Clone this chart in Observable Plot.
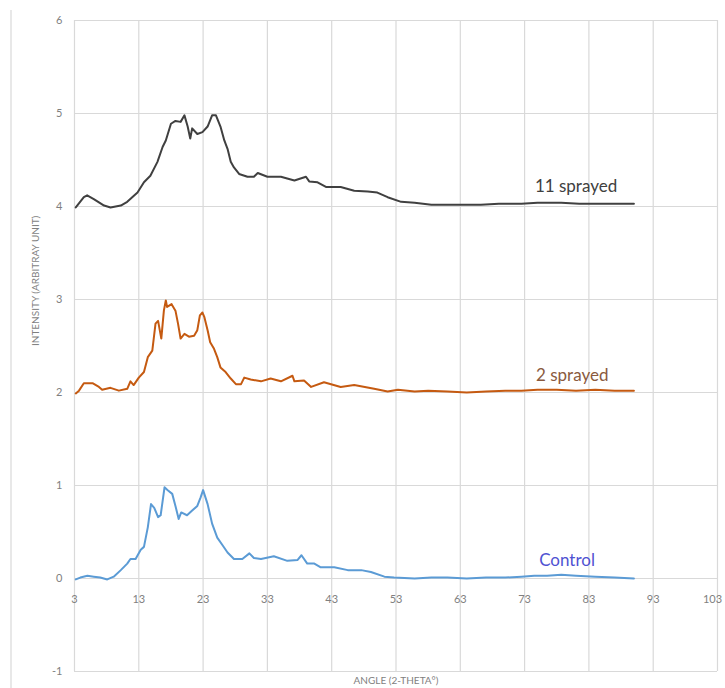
<!DOCTYPE html>
<html>
<head>
<meta charset="utf-8">
<script src="https://cdn.jsdelivr.net/npm/d3@7"></script>
<script src="https://cdn.jsdelivr.net/npm/@observablehq/plot@0.6"></script>
<style>
  body { margin: 0; background: #fff; }
  #chart { position: relative; width: 725px; height: 688px; font-family: Lato, "Open Sans", sans-serif; }
  #edge { position: absolute; left: 10px; top: 10px; width: 2px; height: 678px; background: #e8e8e8; }
</style>
</head>
<body>
<div id="chart"><div id="edge"></div></div>
<script>
// X-ray diffraction patterns, offset vertically by sample
const controlAngle = [3.2, 3.9, 5.0, 6.0, 7.0, 8.1, 9.1, 10.2, 11.2, 11.7, 12.5, 13.3, 13.8, 14.4, 14.9, 15.4, 16.0, 16.4, 17.0, 17.5, 18.2, 18.7, 19.2, 19.6, 20.5, 21.3, 22.1, 22.6, 23.0, 23.7, 24.4, 25.2, 26.0, 26.8, 27.8, 29.1, 30.2, 30.9, 32.0, 34.0, 36.1, 37.7, 38.3, 39.2, 40.3, 41.3, 43.4, 45.5, 47.6, 49.1, 51.2, 52.7, 55.9, 58.5, 61.0, 64.0, 67.0, 70.0, 72.5, 74.5, 76.5, 78.7, 81.0, 84.0, 87.0, 90.0];
const controlIntensity = [-0.01, 0.01, 0.03, 0.02, 0.01, -0.01, 0.02, 0.09, 0.16, 0.21, 0.21, 0.31, 0.34, 0.55, 0.80, 0.76, 0.66, 0.68, 0.98, 0.95, 0.91, 0.78, 0.64, 0.71, 0.68, 0.73, 0.78, 0.87, 0.95, 0.80, 0.59, 0.44, 0.36, 0.28, 0.21, 0.21, 0.27, 0.22, 0.21, 0.24, 0.19, 0.20, 0.25, 0.16, 0.16, 0.12, 0.12, 0.09, 0.09, 0.07, 0.02, 0.01, 0.00, 0.01, 0.01, 0.00, 0.01, 0.01, 0.02, 0.03, 0.03, 0.04, 0.03, 0.02, 0.01, 0.00];

const sprayed2Angle = [3.2, 3.7, 4.45, 5.8, 6.8, 7.3, 8.6, 9.9, 11.2, 11.7, 12.2, 13.0, 13.8, 14.4, 15.1, 15.6, 16.0, 16.5, 16.9, 17.2, 17.4, 18.1, 18.7, 19.1, 19.5, 20.1, 20.8, 21.6, 22.1, 22.5, 22.9, 23.2, 23.7, 24.1, 24.7, 25.2, 25.7, 26.5, 27.3, 28.1, 28.9, 29.4, 30.4, 32.0, 33.5, 35.1, 36.9, 37.2, 38.7, 39.8, 41.8, 44.4, 46.5, 49.6, 51.7, 53.3, 55.9, 58.0, 61.0, 64.0, 67.0, 70.0, 72.5, 75.0, 78.0, 81.0, 84.0, 87.0, 90.0];
const sprayed2Intensity = [1.99, 2.02, 2.10, 2.10, 2.06, 2.03, 2.05, 2.02, 2.04, 2.12, 2.08, 2.16, 2.22, 2.38, 2.45, 2.74, 2.77, 2.58, 2.88, 2.99, 2.92, 2.95, 2.88, 2.74, 2.58, 2.63, 2.60, 2.61, 2.67, 2.83, 2.86, 2.81, 2.67, 2.54, 2.47, 2.38, 2.27, 2.22, 2.15, 2.09, 2.09, 2.16, 2.14, 2.12, 2.15, 2.12, 2.18, 2.12, 2.13, 2.06, 2.11, 2.06, 2.08, 2.04, 2.01, 2.03, 2.01, 2.02, 2.01, 2.00, 2.01, 2.02, 2.02, 2.03, 2.03, 2.02, 2.03, 2.02, 2.02];

const sprayed11Angle = [3.2, 4.45, 4.97, 6.0, 7.6, 8.6, 10.2, 11.2, 12.8, 13.8, 14.8, 15.9, 16.7, 17.2, 18.0, 18.7, 19.5, 20.1, 20.6, 21.0, 21.3, 22.1, 22.9, 23.7, 24.4, 25.0, 25.7, 26.3, 26.8, 27.3, 27.8, 28.6, 29.9, 30.9, 31.5, 33.0, 35.1, 37.2, 39.0, 39.5, 40.8, 42.1, 44.4, 46.5, 48.6, 50.1, 51.7, 53.8, 55.9, 58.5, 61.0, 63.5, 66.2, 69.0, 72.5, 75.0, 78.7, 81.5, 84.0, 87.0, 90.0];
const sprayed11Intensity = [3.99, 4.10, 4.12, 4.08, 4.01, 3.99, 4.01, 4.05, 4.15, 4.26, 4.33, 4.48, 4.64, 4.71, 4.89, 4.92, 4.91, 4.98, 4.86, 4.73, 4.84, 4.78, 4.80, 4.86, 4.98, 4.98, 4.86, 4.71, 4.62, 4.48, 4.42, 4.35, 4.32, 4.32, 4.36, 4.32, 4.32, 4.28, 4.32, 4.27, 4.26, 4.21, 4.21, 4.17, 4.16, 4.15, 4.10, 4.05, 4.04, 4.02, 4.02, 4.02, 4.02, 4.03, 4.03, 4.04, 4.04, 4.03, 4.03, 4.03, 4.03];

const seriesNames = ["Control", "2 sprayed", "11 sprayed"];
const seriesColors = ["#5b9bd5", "#c55a11", "#404040"];
const labelX = [79.6, 80.4, 81.0];
const labelY = [0.19, 2.18, 4.21];
const labelColors = ["#4f52d2", "#8a5a3e", "#404040"];

const xTicks = [3, 13, 23, 33, 43, 53, 63, 73, 83, 93, 103];
const yTicks = [-1, 0, 1, 2, 3, 4, 5, 6];

const angles = [controlAngle, sprayed2Angle, sprayed11Angle];
const intensities = [controlIntensity, sprayed2Intensity, sprayed11Intensity];
const rows = seriesNames.flatMap((name, i) =>
  angles[i].map((a, j) => ({name, angle: a, intensity: intensities[i][j]}))
);
const labels = seriesNames.map((name, i) => ({name, x: labelX[i], y: labelY[i], color: labelColors[i]}));

const grey = "#7f7f7f";
const lastTick = xTicks[xTicks.length - 1];
const tickLabel = {y: 0, dy: 21, text: d => String(d), fill: grey, fontSize: 11};
const chart = Plot.plot({
  width: 725,
  height: 688,
  marginLeft: 74,
  marginRight: 8,
  marginTop: 20,
  marginBottom: 17,
  style: {fontFamily: "Lato, 'Open Sans', sans-serif", background: "transparent"},
  x: {domain: [3, 103], axis: null},
  y: {domain: [-1, 6], axis: null},
  color: {domain: seriesNames, range: seriesColors},
  marks: [
    Plot.gridX(xTicks, {stroke: "#d9d9d9", strokeOpacity: 1, strokeWidth: 1.2}),
    Plot.gridY(yTicks, {stroke: "#d9d9d9", strokeOpacity: 1, strokeWidth: 1.2}),
    Plot.axisY(yTicks, {tickSize: 0, tickPadding: 12, fontSize: 11, color: grey, label: null, tickFormat: d => String(d)}),
    // angle tick labels sit on the zero line; the last one is nudged in from the edge
    Plot.text(xTicks.filter(d => d !== lastTick), {x: d => d, ...tickLabel}),
    Plot.text([lastTick], {x: d => d, ...tickLabel, dx: -5}),
    Plot.line(rows, {x: "angle", y: "intensity", z: "name", stroke: "name", strokeWidth: 2, curve: "linear"}),
    Plot.text(labels, {x: "x", y: "y", text: "name", fill: d => d.color, fontSize: 17}),
    Plot.text(["INTENSITY (ARBITRAY UNIT)"], {frameAnchor: "left", dx: -39, rotate: -90, fill: grey, fontSize: 10}),
    Plot.text(["ANGLE (2-THETA°)"], {frameAnchor: "bottom", dy: 12, fill: grey, fontSize: 10})
  ]
});
document.getElementById("chart").appendChild(chart);
</script>
</body>
</html>
